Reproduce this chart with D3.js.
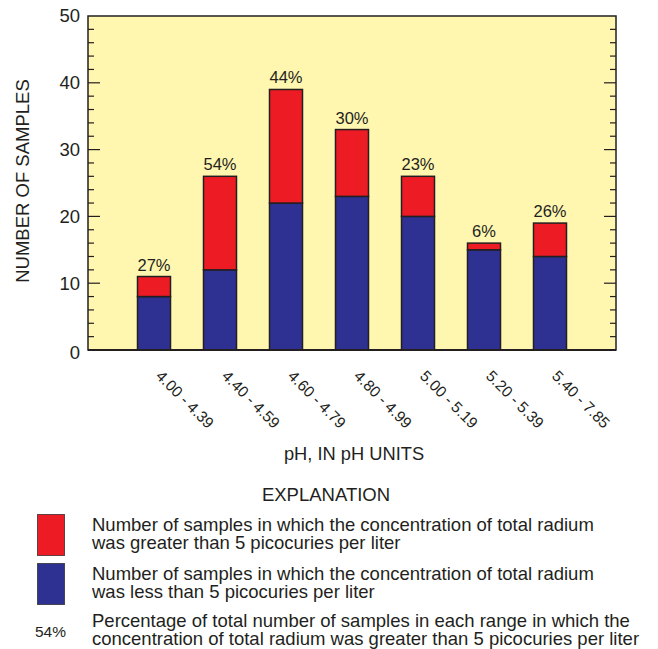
<!DOCTYPE html>
<html>
<head>
<meta charset="utf-8">
<script src="https://cdn.jsdelivr.net/npm/d3@7"></script>
<style>
  html, body { margin: 0; padding: 0; background: #fff; }
  svg { display: block; font-family: "Liberation Sans", Arial, Helvetica, sans-serif; }
</style>
</head>
<body>
<svg id="chart" width="658" height="649"></svg>
<script>
// ---- Data ----
const categories = ["4.00 - 4.39", "4.40 - 4.59", "4.60 - 4.79", "4.80 - 4.99", "5.00 - 5.19", "5.20 - 5.39", "5.40 - 7.85"];
const lessThan5 = [8, 12, 22, 23, 20, 15, 14];
const greaterThan5 = [3, 14, 17, 10, 6, 1, 5];
const percentLabels = ["27%", "54%", "44%", "30%", "23%", "6%", "26%"];
const yTicks = [0, 10, 20, 30, 40, 50];
const legendItems = [
  ["Number of samples in which the concentration of total radium", "was greater than 5 picocuries per liter"],
  ["Number of samples in which the concentration of total radium", "was less than 5 picocuries per liter"],
  ["Percentage of total number of samples in each range in which the", "concentration of total radium was greater than 5 picocuries per liter"]
];

// ---- Layout ----
const ink = "#231F20";
const colRed = "#ED1C24";
const colBlue = "#2E3192";
const colBg = "#FFF6B0";
const plot = { left: 88, right: 616, top: 16, bottom: 350 };

const svg = d3.select("#chart");
const x = d3.scalePoint().domain(categories).range([plot.left, plot.right]).padding(1);
const y = d3.scaleLinear().domain([0, 50]).range([plot.bottom, plot.top]);
const barW = 33;

// background
svg.append("rect")
  .attr("x", plot.left).attr("y", plot.top)
  .attr("width", plot.right - plot.left).attr("height", plot.bottom - plot.top)
  .attr("fill", colBg);

// stacked bars
const data = categories.map((c, i) => ({ c, lo: lessThan5[i], hi: greaterThan5[i], pct: percentLabels[i] }));
const g = svg.append("g");
g.selectAll("rect.lo").data(data).join("rect")
  .attr("class", "lo")
  .attr("x", d => x(d.c) - barW / 2)
  .attr("y", d => y(d.lo))
  .attr("width", barW)
  .attr("height", d => y(0) - y(d.lo))
  .attr("fill", colBlue).attr("stroke", ink).attr("stroke-width", 1.5);
g.selectAll("rect.hi").data(data).join("rect")
  .attr("class", "hi")
  .attr("x", d => x(d.c) - barW / 2)
  .attr("y", d => y(d.lo + d.hi))
  .attr("width", barW)
  .attr("height", d => y(d.lo) - y(d.lo + d.hi))
  .attr("fill", colRed).attr("stroke", ink).attr("stroke-width", 1.5);

// percent labels
g.selectAll("text.pct").data(data).join("text")
  .attr("class", "pct")
  .attr("x", d => x(d.c))
  .attr("y", d => y(d.lo + d.hi) - 6)
  .attr("text-anchor", "middle")
  .attr("font-size", 16.5)
  .attr("fill", ink)
  .text(d => d.pct);

// minor + major inner ticks, left and right
const allTicks = d3.range(0, 51, 2);
const tickG = svg.append("g").attr("stroke", ink).attr("stroke-width", 1.2);
allTicks.forEach(t => {
  if (t === 0 || t === 50) return;
  const len = t % 10 === 0 ? 12 : 6;
  tickG.append("line").attr("x1", plot.left).attr("x2", plot.left + len).attr("y1", y(t)).attr("y2", y(t));
  tickG.append("line").attr("x1", plot.right).attr("x2", plot.right - len).attr("y1", y(t)).attr("y2", y(t));
});

// frame
svg.append("rect")
  .attr("x", plot.left).attr("y", plot.top)
  .attr("width", plot.right - plot.left).attr("height", plot.bottom - plot.top)
  .attr("fill", "none").attr("stroke", ink).attr("stroke-width", 1.5);
svg.append("line")
  .attr("x1", plot.left).attr("x2", plot.right)
  .attr("y1", plot.bottom).attr("y2", plot.bottom)
  .attr("stroke", ink).attr("stroke-width", 2);

// y tick labels via axis
const yAxis = d3.axisLeft(y).tickValues(yTicks).tickSize(0).tickPadding(8);
const yAxisG = svg.append("g").attr("transform", `translate(${plot.left},0)`).call(yAxis);
yAxisG.select(".domain").remove();
yAxisG.selectAll("text").attr("font-size", 18.5).attr("fill", ink)
  .attr("font-family", "'Liberation Sans', Arial, sans-serif");
yAxisG.selectAll(".tick").filter(d => d === 0).select("text").attr("dy", "0.45em");

// x tick labels (rotated)
svg.append("g").selectAll("text").data(categories).join("text")
  .attr("transform", d => `translate(${x(d) + 1},377) rotate(45)`)
  .attr("font-size", 15.5)
  .attr("fill", ink)
  .text(d => d);

// axis titles
svg.append("text")
  .attr("transform", "translate(29,181) rotate(-90)")
  .attr("text-anchor", "middle")
  .attr("font-size", 18.5)
  .attr("fill", ink)
  .text("NUMBER OF SAMPLES");
svg.append("text")
  .attr("x", 354).attr("y", 460)
  .attr("text-anchor", "middle")
  .attr("font-size", 18.3)
  .attr("fill", ink)
  .text("pH, IN pH UNITS");

// legend
svg.append("text")
  .attr("x", 326).attr("y", 501)
  .attr("text-anchor", "middle")
  .attr("font-size", 18.5)
  .attr("fill", ink)
  .text("EXPLANATION");

const swatchColors = [colRed, colBlue];
swatchColors.forEach((c, i) => {
  svg.append("rect")
    .attr("x", 37.5).attr("y", 514.5 + i * 49)
    .attr("width", 27).attr("height", 41)
    .attr("fill", c).attr("stroke", ink).attr("stroke-opacity", 0.7).attr("stroke-width", 1);
});
svg.append("text")
  .attr("x", 35).attr("y", 637)
  .attr("font-size", 15.5)
  .attr("fill", ink)
  .text(percentLabels[1]);

const legendBase = [531, 580, 627];
legendItems.forEach((lines, i) => {
  const t = svg.append("text").attr("font-size", 18.5).attr("fill", ink);
  lines.forEach((ln, j) => {
    t.append("tspan").attr("x", 92).attr("y", legendBase[i] + j * 18).text(ln);
  });
});
</script>
</body>
</html>
